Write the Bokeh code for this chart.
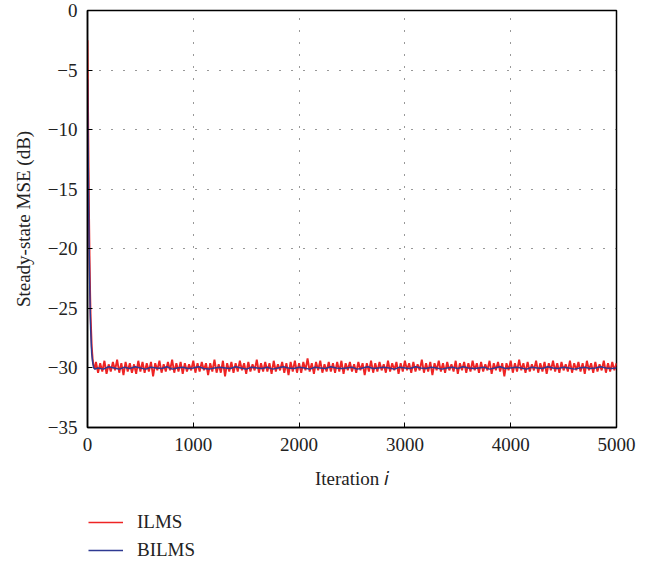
from bokeh.plotting import figure
from bokeh.layouts import column
from bokeh.models import Legend, LegendItem, CustomJSTickFormatter, FixedTicker, Range1d
from bokeh.embed import file_html
from bokeh.resources import INLINE

# ---- data ----
transient_iter = [0, 5, 10, 15, 20, 25, 30, 40, 50, 60, 70]
ilms_transient = [-2.5, -8.0, -13.0, -17.5, -21.0, -23.8, -25.8, -28.2, -29.4, -29.9, -30.1]
bilms_transient = [-5.8, -11.0, -15.5, -19.5, -22.5, -25.0, -26.8, -28.8, -29.6, -30.0, -30.1]

ilms_steady = [
    -29.5, -30.4, -29.6, -30.3, -29.4, -30.5, -29.7, -30.3, -29.5, -30.2,
    -29.3, -30.4, -29.6, -30.6, -29.5, -30.3, -29.6, -30.4, -29.7, -30.5,
    -29.4, -30.3, -29.5, -30.4, -29.6, -30.3, -29.5, -30.7, -29.6, -30.2,
    -29.4, -30.4, -29.7, -30.3, -29.5, -30.2, -29.3, -30.4, -29.6, -30.3,
    -29.5, -30.5, -29.6, -30.3, -29.7, -30.2, -29.4, -30.4, -29.6, -30.3,
    -29.5, -30.2, -29.6, -30.6, -29.6, -30.3, -29.3, -30.4, -29.7, -30.4,
    -29.4, -30.7, -29.6, -30.3, -29.5, -30.4, -29.6, -30.3, -29.4, -30.2,
    -29.6, -30.5, -29.5, -30.3, -29.7, -30.2, -29.3, -30.4, -29.6, -30.3,
    -29.5, -30.3, -29.6, -30.5, -29.4, -30.3, -29.7, -30.2, -29.5, -30.4,
    -29.6, -30.6, -29.5, -30.3, -29.4, -30.4, -29.6, -30.4, -29.5, -30.2,
    -29.2, -30.3, -29.6, -30.5, -29.5, -30.2, -29.4, -30.4, -29.7, -30.3,
    -29.5, -30.3, -29.6, -30.4, -29.5, -30.3, -29.4, -30.5, -29.6, -30.2,
    -29.5, -30.3, -29.7, -30.4, -29.5, -30.2, -29.6, -30.6, -29.6, -30.3,
    -29.4, -30.4, -29.6, -30.3, -29.5, -30.2, -29.7, -30.4, -29.4, -30.3,
    -29.6, -30.2, -29.5, -30.5, -29.6, -30.3, -29.4, -30.2, -29.6, -30.4,
    -29.5, -30.3, -29.7, -30.2, -29.3, -30.4, -29.6, -30.3, -29.5, -30.6,
    -29.6, -30.2, -29.4, -30.3, -29.6, -30.4, -29.5, -30.2, -29.7, -30.3,
    -29.4, -30.5, -29.6, -30.2, -29.5, -30.4, -29.6, -30.3, -29.4, -30.2,
    -29.6, -30.4, -29.5, -30.3, -29.7, -30.2, -29.4, -30.5, -29.6, -30.2,
    -29.5, -30.3, -29.6, -30.7, -29.6, -30.2, -29.4, -30.4, -29.6, -30.3,
    -29.3, -30.2, -29.6, -30.4, -29.5, -30.3, -29.7, -30.2, -29.4, -30.4,
    -29.6, -30.3, -29.5, -30.5, -29.6, -30.2, -29.4, -30.3, -29.6, -30.4,
    -29.5, -30.2, -29.7, -30.3, -29.4, -30.4, -29.6, -30.2, -29.5, -30.3,
    -29.6, -30.5, -29.4, -30.2, -29.6, -30.4, -29.5, -30.3, -29.7, -30.2,
    -29.4, -30.4, -29.6, -30.3, -29.5, -30.2, -29.6,
]
ilms_step = 20
ilms_start = 80

bilms_steady = [
    -30.0, -30.1, -29.9, -30.0, -30.1, -29.95, -30.05, -29.9, -30.0, -30.1,
    -29.95, -30.0, -30.05, -29.9, -30.1, -30.0, -29.95, -30.05, -30.0, -29.9,
    -30.05, -30.1, -30.0, -29.95, -30.0, -30.05, -29.9, -30.0, -30.1, -29.95,
    -30.0, -30.05, -29.95, -30.1, -30.0, -29.9, -30.0, -30.05, -29.95, -30.0,
    -30.1, -29.95, -30.0, -30.05, -29.9, -30.0, -30.05, -30.0, -29.95, -30.1,
    -30.0, -29.9, -30.05, -30.0, -29.95, -30.0, -30.1, -29.95, -30.0, -30.05,
    -29.9, -30.0, -30.05, -29.95, -30.0, -30.1, -30.0, -29.95, -30.05, -29.9,
    -30.0, -30.05, -30.0, -29.95, -30.1, -30.0, -29.9, -30.05, -30.0, -29.95,
    -30.0, -30.1, -29.95, -30.0, -30.05, -29.9, -30.0, -30.05, -29.95, -30.0,
    -30.1, -30.0, -29.95, -30.05, -30.0, -29.9, -30.0, -30.05, -30.0,
]
bilms_step = 50
bilms_start = 100

x_ticks = [0, 1000, 2000, 3000, 4000, 5000]
y_ticks = [0, -5, -10, -15, -20, -25, -30, -35]
series_names = ["ILMS", "BILMS"]

ilms_x = transient_iter + [ilms_start + ilms_step * k for k in range(len(ilms_steady))]
ilms_y = ilms_transient + ilms_steady
bilms_x = transient_iter + [bilms_start + bilms_step * k for k in range(len(bilms_steady))]
bilms_y = bilms_transient + bilms_steady

RED = "#ee2424"
BLUE = "#2e3a92"
FONT = "Liberation Serif"

p = figure(frame_width=529, frame_height=417, output_backend="svg", toolbar_location=None,
           x_range=Range1d(0, 5000), y_range=Range1d(-35, 0),
           min_border_left=87, min_border_top=10, min_border_right=37, min_border_bottom=70)
p.background_fill_color = "white"
p.border_fill_color = "white"
p.outline_line_color = "black"
p.outline_line_width = 1.5

r1 = p.line(ilms_x, ilms_y, line_color=RED, line_width=1.9)
r2 = p.line(bilms_x, bilms_y, line_color=BLUE, line_width=1.5)

fmt = CustomJSTickFormatter(code="return tick < 0 ? '\u2212' + Math.abs(tick) : String(tick);")
p.xaxis.ticker = FixedTicker(ticks=x_ticks)
p.yaxis.ticker = FixedTicker(ticks=y_ticks)
p.yaxis.formatter = fmt
for ax in (p.xaxis, p.yaxis):
    ax.major_tick_in = 5
    ax.major_tick_out = 0
    ax.minor_tick_line_color = None
    ax.axis_line_width = 1.5
    ax.axis_line_color = "black"
    ax.major_tick_line_color = "black"
    ax.major_label_text_font = FONT
    ax.major_label_text_font_size = "19px"
    ax.major_label_text_color = "#222222"
    ax.axis_label_text_font = FONT
    ax.axis_label_text_font_size = "19px"
    ax.axis_label_text_font_style = "normal"
    ax.axis_label_text_color = "#222222"
    ax.major_label_standoff = 10
p.xaxis.axis_label_standoff = 14
p.yaxis.axis_label_standoff = 11

p.xaxis.axis_label = "Iteration 𝑖"
p.yaxis.axis_label = "Steady-state MSE (dB)"

p.grid.grid_line_color = "#333333"
p.grid.grid_line_dash = "1 11"
p.grid.grid_line_width = 1

# ---- legend panel below the chart (its lines fall outside its own ranges) ----
lg = figure(width=653, height=65, output_backend="svg", toolbar_location=None,
            x_range=Range1d(0, 1), y_range=Range1d(0, 1),
            min_border_left=0, min_border_right=0, min_border_top=0, min_border_bottom=0)
lg.axis.visible = False
lg.grid.visible = False
lg.outline_line_color = None
lg.background_fill_color = "white"
lg.border_fill_color = "white"
g1 = lg.line(ilms_x, ilms_y, line_color=RED, line_width=1.4)
g2 = lg.line(bilms_x, bilms_y, line_color=BLUE, line_width=1.5)

legend = Legend(items=[LegendItem(label=series_names[0], renderers=[g1]),
                       LegendItem(label=series_names[1], renderers=[g2])],
                location=(1, 1), orientation="vertical")
legend.label_text_font = FONT
legend.label_text_font_size = "19px"
legend.label_text_color = "#222222"
legend.border_line_color = None
legend.background_fill_alpha = 0
legend.glyph_width = 35
legend.glyph_height = 20
legend.label_height = 20
legend.spacing = 6
legend.margin = 0
legend.padding = 0
legend.label_standoff = 14
lg.add_layout(legend, "center")

layout = column(p, lg, spacing=0)
open("out.html", "w").write(file_html(layout, INLINE))
